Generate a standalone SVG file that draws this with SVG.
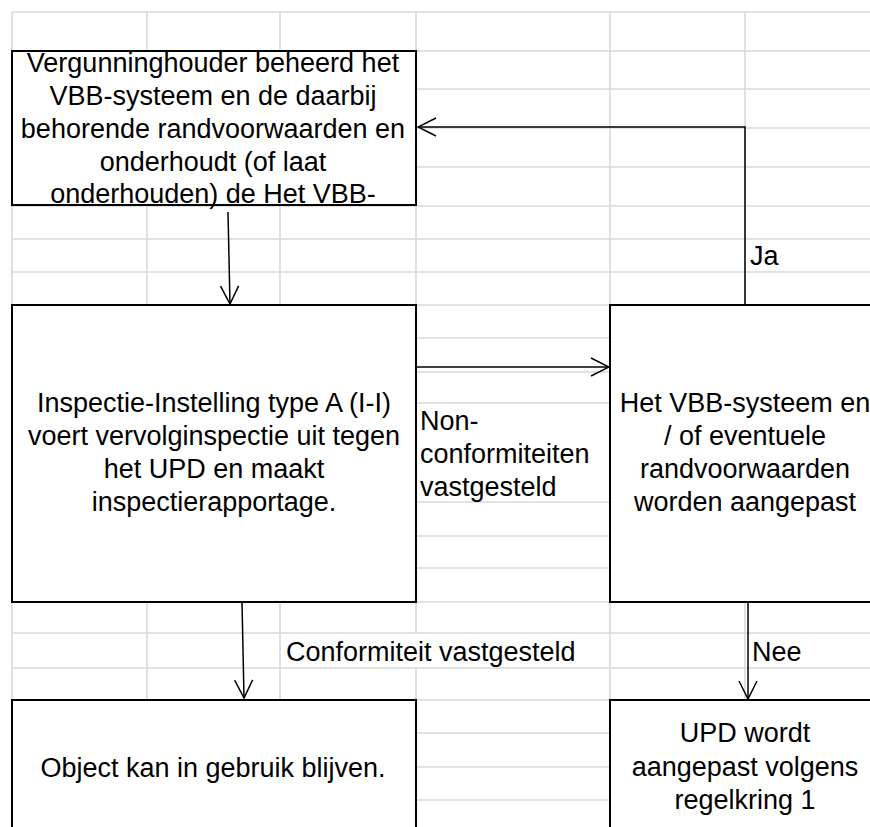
<svg xmlns="http://www.w3.org/2000/svg" width="870" height="827" viewBox="0 0 870 827">
  <style>
    .grid { stroke: #d9d9d9; stroke-width: 1.6; fill: none; }
    .box { fill: #ffffff; stroke: #000000; stroke-width: 2; }
    .t { font-family: "Liberation Sans", Arial, sans-serif; font-size: 27px; fill: #000000; }
    .c { text-anchor: middle; }
    .edge { stroke: #000000; stroke-width: 1.5; fill: none; }
  </style>
  <defs>
    <marker id="open-arrow" viewBox="0 0 20 20" markerWidth="20" markerHeight="20" refX="19" refY="10" orient="auto" markerUnits="userSpaceOnUse">
      <path d="M1,1 L19,10 L1,19" fill="none" stroke="#000000" stroke-width="1.5"/>
    </marker>
  </defs>

  <rect x="0" y="0" width="870" height="827" fill="#ffffff"/>

  <!-- worksheet gridlines -->
  <g id="gridlines" class="grid">
    <path d="M12,12H870 M12,51H870 M12,89H870 M12,128H870 M12,167H870 M12,206H870 M12,239H870 M12,272H870 M12,305H870 M12,338H870 M12,372H870 M12,403H870 M12,502H870 M12,536H870 M12,568H870 M12,602H870 M12,633H870 M12,668H870 M12,700H870 M12,733H870 M12,767H870 M12,800H870"/>
    <path d="M12,12V827 M147,12V827 M280,12V827 M416,12V633 M416,668V827 M610,12V827 M745,12V827"/>
  </g>

  <!-- label cell that hides the gridline under its overflowing text -->
  <rect x="417" y="634" width="192" height="33" fill="#ffffff"/>

  <g id="node-vergunninghouder">
    <rect class="box" x="12" y="51" width="404" height="154"/>
    <text class="t c" x="213" y="72">Vergunninghouder beheerd het</text>
    <text class="t c" x="213" y="105">VBB-systeem en de daarbij</text>
    <text class="t c" x="213" y="138">behorende randvoorwaarden en</text>
    <text class="t c" x="213" y="171">onderhoudt (of laat</text>
    <text class="t c" x="213" y="203">onderhouden) de Het VBB-</text>
  </g>

  <g id="node-inspectie">
    <rect class="box" x="12" y="305" width="404" height="297"/>
    <text class="t c" x="214" y="412">Inspectie-Instelling type A (I-I)</text>
    <text class="t c" x="214" y="445">voert vervolginspectie uit tegen</text>
    <text class="t c" x="214" y="478">het UPD en maakt</text>
    <text class="t c" x="214" y="511">inspectierapportage.</text>
  </g>

  <g id="node-aanpassing">
    <rect class="box" x="610" y="305" width="280" height="297"/>
    <text class="t c" x="745" y="412">Het VBB-systeem en</text>
    <text class="t c" x="745" y="445">/ of eventuele</text>
    <text class="t c" x="745" y="478">randvoorwaarden</text>
    <text class="t c" x="745" y="511">worden aangepast</text>
  </g>

  <g id="node-object">
    <rect class="box" x="12" y="700" width="404" height="150"/>
    <text class="t c" x="213" y="777">Object kan in gebruik blijven.</text>
  </g>

  <g id="node-upd">
    <rect class="box" x="610" y="700" width="280" height="150"/>
    <text class="t c" x="745" y="742">UPD wordt</text>
    <text class="t c" x="745" y="776">aangepast volgens</text>
    <text class="t c" x="745" y="809">regelkring 1</text>
  </g>

  <g id="connectors">
    <path class="edge" d="M228,212 L230,304" marker-end="url(#open-arrow)"/>
    <path class="edge" d="M416,367 L609,367" marker-end="url(#open-arrow)"/>
    <path class="edge" d="M745,305 V127 H418" marker-end="url(#open-arrow)"/>
    <path class="edge" d="M242,602 L244,698" marker-end="url(#open-arrow)"/>
    <path class="edge" d="M748,602 V699" marker-end="url(#open-arrow)"/>

    <text class="t" x="750" y="265">Ja</text>
    <text class="t" x="420" y="430">Non-</text>
    <text class="t" x="420" y="463">conformiteiten</text>
    <text class="t" x="420" y="496">vastgesteld</text>
    <text class="t" x="286" y="661">Conformiteit vastgesteld</text>
    <text class="t" x="752" y="661">Nee</text>
  </g>
</svg>
